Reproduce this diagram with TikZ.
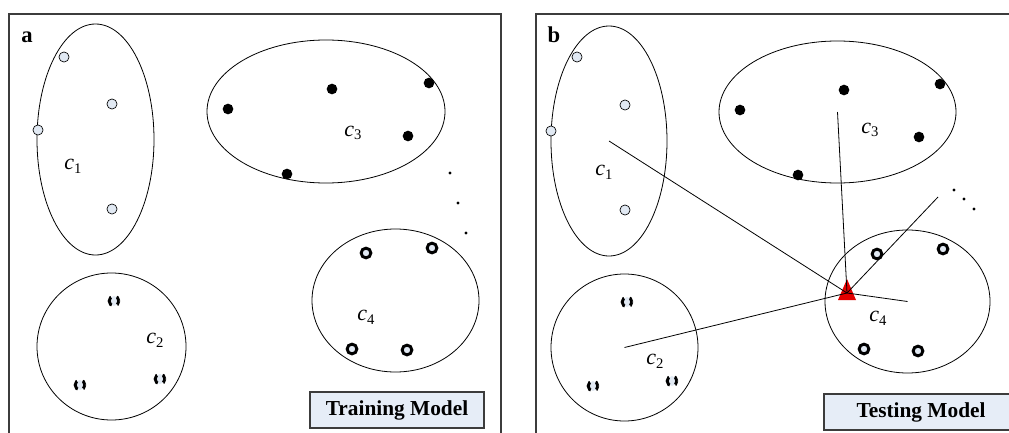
\documentclass[tikz,border=0pt]{standalone}
\usepackage{fontspec}
\setmainfont{Liberation Serif}
\definecolor{ptfill}{HTML}{E1E9F3}
\definecolor{boxfill}{HTML}{E6EDF7}
\definecolor{framegray}{HTML}{3C3C3C}
\definecolor{queryred}{HTML}{E20000}
\newcommand{\clab}[1]{{\fontsize{16.5}{16.5}\selectfont\itshape c}\raisebox{-0.6ex}{\fontsize{11}{11}\selectfont #1}}
\begin{document}
\begin{tikzpicture} [
                x=0.75pt, y=-0.75pt,
                frame/.style={draw=framegray,line width=1.1pt},
                cluster/.style={draw,line width=0.6pt},
                lightpt/.style={circle,draw,fill=ptfill,minimum size=7.6pt,inner sep=0pt,line width=0.5pt},
                darkpt/.style={circle,fill=black,minimum size=8pt,inner sep=0pt},
                ringpt/.style={circle,draw,fill=ptfill,minimum size=7.3pt,inner sep=0pt,line width=2.2pt},
                brokenpt/.style={circle,draw,fill=ptfill,minimum size=7.3pt,inner sep=0pt,line width=2.2pt,
                    dash pattern=on 7pt off 4.46pt,dash phase=3.5pt},
                tinydot/.style={circle,fill=black,minimum size=2.4pt,inner sep=0pt},
                panlabel/.style={font=\fontsize{17}{17}\selectfont\bfseries},
                modelbox/.style={draw=framegray,fill=boxfill,line width=1.1pt,minimum height=27pt,
                    font=\fontsize{16}{16}\selectfont\bfseries},
                link/.style={draw,line width=0.6pt,-},
            ]
            \useasboundingbox (0,0) rectangle (1009,432);
            \clip (0,0) rectangle (1009,432);
            \draw[frame] (9,440) -- (9,14) -- (501,14) -- (501,440);
            \draw[frame] (536,440) -- (536,14) -- (1015,14);
            \node[panlabel] (la) at (27,37) {a};
            \node[panlabel] (lb) at (554,35) {b};
            \foreach \name/\x/\y/\rx/\ry in {
            A1/95.5/139.5/58.5/115.5, A2/111.5/346.5/74.5/73.5, A3/326/111.5/119/71.5, A4/395.5/300.5/83.5/71.5,
            B1/609/141/58/115, B2/624.5/347.5/73.5/73.5, B3/837.5/112/118.5/71, B4/907.5/301.5/82.5/71.5}
                \draw[cluster] (\x,\y) coordinate (\name) ellipse [x radius=\rx, y radius=\ry];
            \foreach \pos/\name in {
            {(64,57)/a11}, {(112,104)/a12}, {(38,130)/a13}, {(112,209)/a14},
            {(577,57)/b11}, {(625,105)/b12}, {(551,131)/b13}, {(625,210)/b14}}
                \node[lightpt] (\name) at \pos {};
            \foreach \pos/\name in {
            {(114,301)/a21}, {(80,385)/a22}, {(160,379)/a23},
            {(627,302)/b21}, {(593,386)/b22}, {(672,381)/b23}}
                \node[brokenpt] (\name) at \pos {};
            \foreach \pos/\name in {
            {(228,109)/a31}, {(332,89)/a32}, {(429,83)/a33}, {(408,136)/a34}, {(287,174)/a35},
            {(740,110)/b31}, {(844,90)/b32}, {(940,84)/b33}, {(919,137)/b34}, {(798,175)/b35}}
                \node[darkpt] (\name) at \pos {};
            \foreach \pos/\name in {
            {(366,253)/a41}, {(432,248)/a42}, {(352,349)/a43}, {(407,350)/a44},
            {(877,254)/b41}, {(943,249)/b42}, {(864,349)/b43}, {(918,351)/b44}}
                \node[ringpt] (\name) at \pos {};
            \foreach \pos/\name/\num in {
            {(73,166)/ta1/1}, {(155,340)/ta2/2}, {(353,133)/ta3/3}, {(366,317)/ta4/4},
            {(604,172)/tb1/1}, {(655,361)/tb2/2}, {(870,130)/tb3/3}, {(878,318)/tb4/4}}
                \node (\name) at \pos {\clab{\num}};
            \foreach \pos/\name in {
            {(450,173)/da1}, {(458,203)/da2}, {(466,233)/da3},
            {(954,190)/db1}, {(964,199)/db2}, {(974,209)/db3}}
                \node[tinydot] (\name) at \pos {};
            \node[modelbox,minimum width=130.5pt] (train) at (397,410) {Training Model};
            \node[modelbox,minimum width=145.5pt] (test) at (921,412) {Testing Model};
            \coordinate (q) at (847,293);
            \coordinate (tail) at (938,197);
            \fill[queryred] (q) ++(0,-14) -- ++(-9,21) -- ++(18,0) -- cycle;
            \foreach \source in {B1,B2,B3,B4}
                \path[link] (\source) -- (q);
            \path[link] (q) -- (tail);
        \end{tikzpicture}
\end{document}
